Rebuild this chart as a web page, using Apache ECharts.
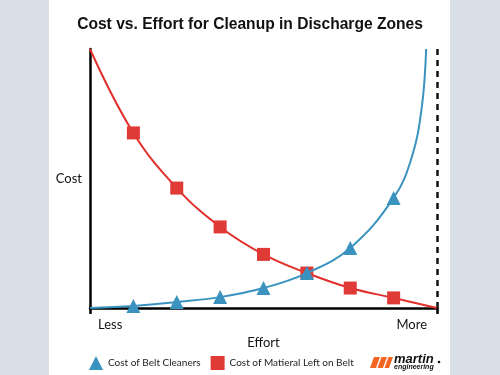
<!DOCTYPE html>
<html>
<head>
<meta charset="utf-8">
<script src="https://cdn.jsdelivr.net/npm/echarts@6/dist/echarts.min.js"></script>
<style>
  html, body { margin: 0; padding: 0; }
  #chart {
    width: 500px; height: 375px;
    background: linear-gradient(to right, #d9e0e8 49px, #ffffff 49px, #ffffff 450px, #d9e0e8 450px);
  }
</style>
</head>
<body>
<div id="chart"></div>
<script>
// data
const effortLabels = ['Less', 'More'];
const materialEffort = [0, 1, 2, 3, 4, 5, 6, 7, 8];
const materialCost = [100, 67.6, 46.3, 31.3, 20.7, 13.5, 7.7, 3.9, 0];
const cleanerEffort = [0, 1, 2, 3, 4, 5, 6, 7, 7.42, 7.65, 7.75];
const cleanerCost = [0, 0.8, 2.3, 4.2, 7.7, 13.5, 23.2, 42.5, 58.3, 77.6, 100];
const markerPoints = [1, 2, 3, 4, 5, 6, 7];

function buildData(xs, ys) {
  return xs.map(function (x, i) {
    const item = { value: [x, ys[i]] };
    if (markerPoints.indexOf(x) < 0) item.symbol = 'none';
    return item;
  });
}

document.addEventListener('DOMContentLoaded', function () {
  const chart = echarts.init(document.getElementById('chart'));
  const labelFont = 'Lato, "Open Sans", sans-serif';
  const option = {
    animation: false,
    title: {
      text: 'Cost vs. Effort for Cleanup in Discharge Zones',
      left: 'center',
      top: 12,
      textStyle: { fontFamily: '"Liberation Sans", Arial, sans-serif', fontWeight: 'bold', fontSize: 15.6, color: '#111' }
    },
    grid: { left: 90, right: 63, top: 49, bottom: 67 },
    legend: {
      left: 89, top: 356, padding: 0,
      itemWidth: 14, itemHeight: 14, itemGap: 10,
      textStyle: { fontFamily: labelFont, fontSize: 10, color: '#222' },
      data: [
        { name: 'Cost of Belt Cleaners', icon: 'triangle' },
        { name: 'Cost of Matieral Left on Belt', icon: 'rect' }
      ]
    },
    xAxis: {
      type: 'value', min: 0, max: 8, interval: 8,
      name: 'Effort', nameLocation: 'middle', nameGap: 21,
      nameTextStyle: { fontFamily: labelFont, fontSize: 13, color: '#111' },
      axisLine: { lineStyle: { color: '#000', width: 2.5 } },
      axisTick: { show: true, length: 6, lineStyle: { color: '#000', width: 2.5 } },
      axisLabel: {
        margin: 10,
        formatter: function (v) { return v === 0 ? '{l|' + effortLabels[0] + '}' : '{r|' + effortLabels[1] + '}'; },
        rich: {
          l: { fontFamily: labelFont, fontSize: 13, color: '#111', padding: [0, 0, 0, 8] },
          r: { fontFamily: labelFont, fontSize: 13, color: '#111', padding: [0, 10, 0, 0] }
        },
        alignMinLabel: 'left', alignMaxLabel: 'right'
      },
      splitLine: { show: false }
    },
    yAxis: {
      type: 'value', min: 0, max: 100,
      name: 'Cost', nameLocation: 'middle', nameRotate: 0, nameGap: 8,
      nameTextStyle: { fontFamily: labelFont, fontSize: 13, color: '#111', align: 'right' },
      axisLine: { show: true, lineStyle: { color: '#000', width: 2.5 } },
      axisTick: { show: false },
      axisLabel: { show: false },
      splitLine: { show: false }
    },
    series: [
      {
        name: 'Cost of Matieral Left on Belt',
        type: 'line',
        smooth: 0.4,
        symbol: 'rect',
        symbolSize: 13,
        itemStyle: { color: '#e03a36' },
        lineStyle: { color: '#e2302c', width: 2 },
        data: buildData(materialEffort, materialCost),
        markLine: {
          silent: true,
          symbol: 'none',
          label: { show: false },
          lineStyle: { color: '#111', type: [6, 5], width: 2.5 },
          data: [[{ coord: [8, 100] }, { coord: [8, 0] }]]
        },
        z: 2
      },
      {
        name: 'Cost of Belt Cleaners',
        type: 'line',
        smooth: 0.4,
        symbol: 'triangle',
        symbolSize: 14,
        itemStyle: { color: '#3a93bf' },
        lineStyle: { color: '#3a93bf', width: 2 },
        data: buildData(cleanerEffort, cleanerCost),
        z: 3
      }
    ],
    graphic: [
      { type: 'polygon', shape: { points: [[374, 357], [380, 357], [376, 368], [370, 368]] }, style: { fill: '#f26522' } },
      { type: 'polygon', shape: { points: [[381.5, 357], [387, 357], [383, 368], [377.5, 368]] }, style: { fill: '#f26522' } },
      { type: 'polygon', shape: { points: [[388.5, 357], [393, 357], [389, 368], [384.5, 368]] }, style: { fill: '#f26522' } },
      { type: 'text', left: 394, top: 353, style: { text: 'martin', font: 'italic bold 13px "Liberation Sans", Arial, sans-serif', fill: '#111' } },
      { type: 'circle', shape: { cx: 439, cy: 362, r: 1.3 }, style: { fill: '#111' } },
      { type: 'text', left: 394, top: 364, style: { text: 'engineering', font: 'italic bold 7px "Liberation Sans", Arial, sans-serif', fill: '#111' } }
    ]
  };
  chart.setOption(option);
});
</script>
</body>
</html>
